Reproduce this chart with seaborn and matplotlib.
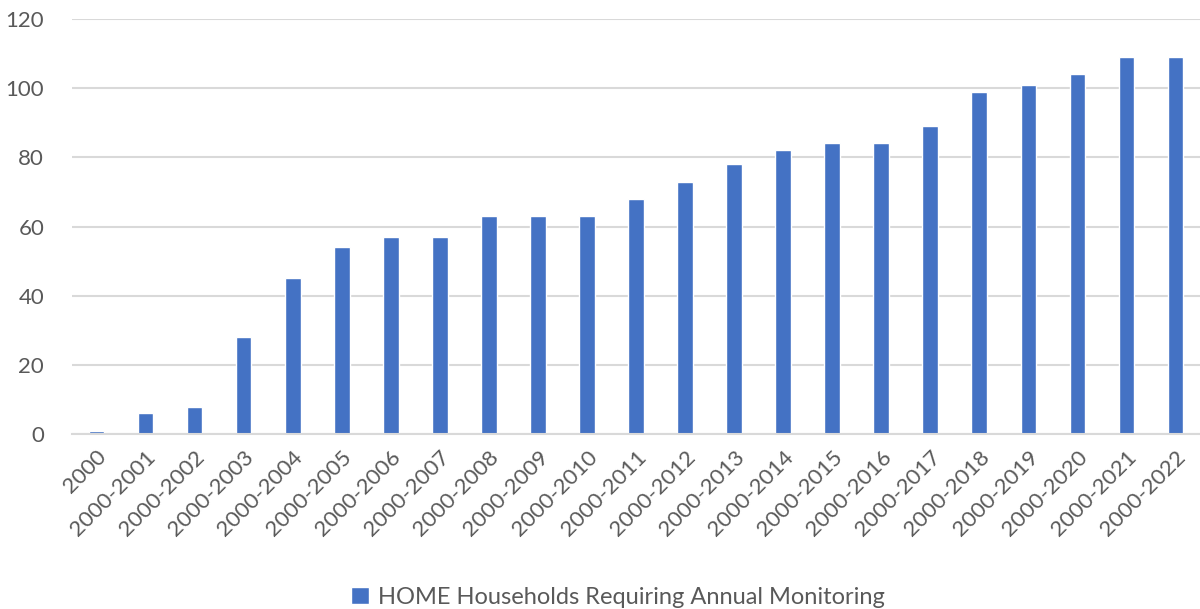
import pandas as pd
import matplotlib.pyplot as plt
import seaborn as sns

# Data
periods = ['2000'] + [f'2000-{y}' for y in range(2001, 2023)]
households = [1, 6, 8, 28, 45, 54, 57, 57, 63, 63, 63, 68, 73, 78, 82,
              84, 84, 89, 99, 101, 104, 109, 109]
series_name = 'HOME Households Requiring Annual Monitoring'

df = pd.DataFrame({'period': periods, 'households': households})
df['series'] = series_name

sns.set_theme(style='white')
plt.rcParams['font.family'] = ['Lato', 'DejaVu Sans']
text_color = '#595959'

fig = plt.figure(figsize=(12, 6.09), dpi=100)
ax = fig.add_axes([0.06, 0.287, 0.94, 0.682])

sns.barplot(data=df, x='period', y='households', hue='series',
            palette=['#4472C4'], saturation=1, width=0.32, ax=ax, legend=True)

ax.set_ylim(0, 120)
ax.set_yticks(range(0, 121, 20))
ax.set_xlim(-0.5, len(periods) - 0.5)
ax.yaxis.grid(True, color='#d9d9d9', linewidth=1.5)
ax.set_axisbelow(True)
for s in ['top', 'right', 'left']:
    ax.spines[s].set_visible(False)
ax.spines['bottom'].set_color('#d9d9d9')
ax.spines['bottom'].set_linewidth(1.5)

ax.set_xlabel('')
ax.set_ylabel('')
ax.tick_params(axis='both', length=0, labelsize=16, colors=text_color)
ax.tick_params(axis='y', pad=20)
ax.tick_params(axis='x', pad=9)
plt.setp(ax.get_xticklabels(), rotation=45, ha='right', rotation_mode='anchor')

leg = ax.legend(loc='center', bbox_to_anchor=(0.484, -0.393), frameon=False,
                fontsize=17, handlelength=0.75, handleheight=0.75, handletextpad=0.4)
for t in leg.get_texts():
    t.set_color(text_color)

fig.savefig('out.png', dpi=100)
